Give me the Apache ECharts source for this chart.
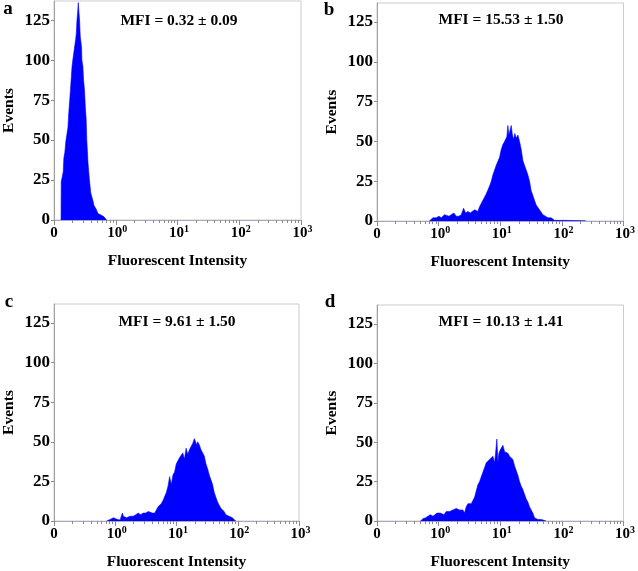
<!DOCTYPE html>
<html>
<head>
<meta charset="utf-8">
<script src="https://cdn.jsdelivr.net/npm/echarts@6/dist/echarts.min.js"></script>
<style>
html,body{margin:0;padding:0;background:#fff;}
#chart{width:638px;height:571px;}
</style>
</head>
<body>
<div id="chart"></div>
<script>
// ---- data (x = log10 fluorescent intensity; "0" label drawn at log10 = -1) ----
var panelLetters = ['a', 'b', 'c', 'd'];
var mfiTexts = ['MFI = 0.32 \u00b1 0.09', 'MFI = 15.53 \u00b1 1.50', 'MFI = 9.61 \u00b1 1.50', 'MFI = 10.13 \u00b1 1.41'];
var xTickValues = [-1, 0, 1, 2, 3];
var yTickValues = [0, 25, 50, 75, 100, 125];
var xAxisTitle = 'Fluorescent Intensity';
var yAxisTitle = 'Events';

var aLogFI = [-0.886, -0.883, -0.866, -0.851, -0.840, -0.825, -0.809, -0.788, -0.774, -0.761, -0.734, -0.708, -0.692, -0.680, -0.671, -0.649, -0.638, -0.628, -0.617, -0.607, -0.596, -0.586, -0.575, -0.554, -0.548, -0.532, -0.522, -0.506, -0.495, -0.490, -0.479, -0.469, -0.448, -0.426, -0.405, -0.384, -0.378, -0.362, -0.352, -0.336, -0.320, -0.309, -0.288, -0.256, -0.232, -0.214, -0.190, -0.177, -0.160, -0.150];
var aEvents = [0, 24, 27, 30, 39, 42, 49, 50, 58, 67, 81, 96, 101, 102, 107, 113, 117, 125, 130, 136, 130, 125, 115, 108, 100, 96, 88, 81, 80, 69, 63, 50, 35, 25, 17, 14, 14, 11, 9, 8, 7, 6, 4, 3, 3, 2, 2, 1, 1, 0];

var bLogFI = [-0.150, -0.146, -0.092, -0.038, 0.005, 0.043, 0.097, 0.124, 0.167, 0.205, 0.248, 0.286, 0.329, 0.367, 0.405, 0.438, 0.475, 0.513, 0.546, 0.583, 0.610, 0.637, 0.664, 0.691, 0.718, 0.745, 0.772, 0.800, 0.827, 0.854, 0.881, 0.908, 0.935, 0.962, 0.989, 1.016, 1.043, 1.070, 1.086, 1.107, 1.124, 1.140, 1.161, 1.178, 1.194, 1.215, 1.237, 1.259, 1.286, 1.313, 1.340, 1.367, 1.394, 1.421, 1.448, 1.475, 1.502, 1.529, 1.556, 1.583, 1.610, 1.637, 1.664, 1.691, 1.734, 1.772, 1.799, 1.826, 1.853, 1.880, 1.934, 2.000, 2.200, 2.380, 2.390];
var bEvents = [0, 1, 2, 2, 3, 2, 4, 5, 3, 4, 5, 3, 3, 4, 8, 5, 6, 5, 6, 7, 8, 6, 9, 11, 13, 15, 17, 18, 22, 25, 29, 30, 35, 36, 40, 45, 48, 50, 51, 53, 60, 54, 55, 60, 55, 51, 55, 52, 54, 50, 45, 38, 35, 35, 29, 25, 19, 16, 13, 10, 9, 7, 6, 4, 3, 2, 3, 2, 1, 0.4, 0.4, 0.4, 0.3, 0.3, 0];

var cLogFI = [-0.140, -0.137, -0.083, -0.029, -0.002, 0.035, 0.079, 0.100, 0.108, 0.116, 0.132, 0.186, 0.240, 0.294, 0.337, 0.375, 0.413, 0.456, 0.499, 0.537, 0.564, 0.607, 0.645, 0.672, 0.699, 0.726, 0.753, 0.780, 0.807, 0.834, 0.861, 0.888, 0.915, 0.942, 0.969, 0.996, 1.023, 1.049, 1.076, 1.103, 1.130, 1.157, 1.184, 1.211, 1.238, 1.265, 1.292, 1.308, 1.330, 1.346, 1.373, 1.400, 1.427, 1.454, 1.481, 1.508, 1.535, 1.562, 1.589, 1.616, 1.643, 1.670, 1.697, 1.724, 1.751, 1.778, 1.805, 1.832, 1.858, 1.885, 1.912, 1.939, 1.966];
var cEvents = [0, 0.6, 1, 2, 2, 1, 0.6, 0.6, 0.6, 5, 3, 2, 3, 3, 4, 5, 4, 5, 5, 6, 6, 5, 5, 7, 9, 10, 11, 13, 14, 18, 22, 28, 23, 29, 31, 36, 38, 40, 41, 43, 39, 46, 42, 45, 47, 49, 52, 51, 48, 50, 48, 45, 43, 41, 36, 33, 29, 26, 23, 18, 15, 12, 10, 8, 7, 6, 4, 3, 3, 2, 2, 1, 0];

var dLogFI = [-0.295, -0.292, -0.254, -0.211, -0.173, -0.135, -0.092, -0.065, -0.027, 0.005, 0.027, 0.054, 0.086, 0.124, 0.151, 0.178, 0.205, 0.232, 0.259, 0.286, 0.313, 0.340, 0.367, 0.394, 0.421, 0.448, 0.475, 0.502, 0.529, 0.556, 0.583, 0.610, 0.637, 0.665, 0.692, 0.719, 0.746, 0.773, 0.800, 0.827, 0.854, 0.881, 0.908, 0.924, 0.945, 0.962, 0.978, 0.999, 1.021, 1.043, 1.070, 1.097, 1.124, 1.151, 1.178, 1.205, 1.232, 1.259, 1.286, 1.313, 1.340, 1.367, 1.394, 1.421, 1.448, 1.475, 1.502, 1.529, 1.556, 1.583, 1.610, 1.637, 1.664, 1.691, 1.745];
var dEvents = [0, 0.6, 1.5, 2, 3, 4, 3, 4, 5, 6, 5, 4, 4, 6, 7, 6, 7, 7, 6, 8, 7, 7, 6, 7, 5, 9, 11, 11, 11, 13, 15, 19, 23, 25, 26, 31, 34, 37, 36, 39, 38, 41, 37, 43, 52, 37, 43, 45, 46, 48, 44, 45, 43, 41, 42, 39, 35, 34, 29, 25, 22, 20, 17, 14, 12, 9, 7, 5, 2, 2, 1, 2, 1, 0.6, 0];

var seriesLogFI = [aLogFI, bLogFI, cLogFI, dLogFI];
var seriesEvents = [aEvents, bEvents, cEvents, dEvents];

// minor log tick positions (log10 of 2..9 in each decade)
var minorTicks = [];
for (var dec = -1; dec < 3; dec++) {
  for (var m = 2; m <= 9; m++) minorTicks.push(dec + Math.log10(m));
}

// ---- layout ----
var FONT = "'Liberation Serif', 'Times New Roman', serif";
var grids = [
  {left: 50, top: 1, width: 251, height: 219},
  {left: 377, top: 3, width: 247, height: 218},
  {left: 52, top: 304, width: 247, height: 219},
  {left: 377, top: 305, width: 247, height: 218}
];
var mfiPos = [[179, 21], [501, 20], [177, 322], [501, 322]];
var letterPos = [[8, 9], [329, 10], [9, 302], [330, 302]];

var option = {
  animation: false,
  backgroundColor: '#fff',
  textStyle: {fontFamily: FONT, fontWeight: 'bold', color: '#000'},
  grid: grids.map(function (g) {
    return Object.assign({show: true, borderColor: '#cccccc', borderWidth: 1, containLabel: false}, g);
  }),
  xAxis: [],
  yAxis: [],
  series: [],
  graphic: []
};

for (var i = 0; i < 4; i++) {
  option.xAxis.push({
    gridIndex: i, type: 'value', min: -1, max: 3, interval: 1,
    axisLine: {show: true, onZero: false, lineStyle: {color: '#a9a9c4', width: 1}},
    axisTick: {show: true, length: 5, lineStyle: {color: '#8a8a8a'}},
    splitLine: {show: false},
    axisLabel: {
      margin: 4, color: '#000',
      formatter: function (v) {
        if (v === -1) return '{z|0}';
        return '{b|10}{s|' + v + '}';
      },
      rich: {
        z: {fontSize: 15, fontWeight: 'bold', fontFamily: FONT, color: '#000', lineHeight: 18},
        b: {fontSize: 15, fontWeight: 'bold', fontFamily: FONT, color: '#000', lineHeight: 18, padding: [0, 0, 0, 3]},
        s: {fontSize: 10, fontWeight: 'bold', fontFamily: FONT, color: '#000', lineHeight: 11, verticalAlign: 'top'}
      }
    },
    name: xAxisTitle, nameLocation: 'middle', nameGap: 33,
    nameTextStyle: {fontSize: 15.5, fontWeight: 'bold', fontFamily: FONT, color: '#000'}
  });
  option.yAxis.push({
    gridIndex: i, type: 'value', min: 0, max: 137,
    axisLine: {show: true, onZero: false, lineStyle: {color: '#a0a0a0', width: 1}},
    axisTick: {show: true, length: 3, customValues: yTickValues, lineStyle: {color: '#8a8a8a'}},
    splitLine: {show: false},
    axisLabel: {customValues: yTickValues, margin: 4, fontSize: 17, fontWeight: 'bold', fontFamily: FONT, color: '#000'},
    name: yAxisTitle, nameLocation: 'middle', nameGap: 37, nameRotate: 90,
    nameTextStyle: {fontSize: 15.5, fontWeight: 'bold', fontFamily: FONT, color: '#000'}
  });
}
for (var j = 0; j < 4; j++) {
  option.xAxis.push({
    gridIndex: j, type: 'value', min: -1, max: 3, position: 'bottom',
    axisLine: {show: false, onZero: false},
    axisTick: {show: true, length: 3, customValues: minorTicks, lineStyle: {color: '#8a8a8a'}},
    axisLabel: {show: false},
    splitLine: {show: false}
  });
}
for (var k = 0; k < 4; k++) {
  var xs = seriesLogFI[k], ys = seriesEvents[k];
  var pts = xs.map(function (x, idx) { return [x, ys[idx]]; });
  option.series.push({
    type: 'line', xAxisIndex: k, yAxisIndex: k, data: pts,
    symbol: 'none', showSymbol: false, silent: true, clip: true,
    lineStyle: {color: '#0000ff', width: 0.6},
    areaStyle: {color: '#0000ff', opacity: 1}
  });
  option.graphic.push({
    type: 'text', x: mfiPos[k][0], y: mfiPos[k][1], silent: true,
    style: {text: mfiTexts[k], fill: '#000', font: 'bold 15.5px ' + FONT, align: 'center', verticalAlign: 'middle'}
  });
  option.graphic.push({
    type: 'text', x: letterPos[k][0], y: letterPos[k][1], silent: true,
    style: {text: panelLetters[k], fill: '#000', font: 'bold 19px ' + FONT, align: 'center', verticalAlign: 'middle'}
  });
}

var chart = echarts.init(document.getElementById('chart'), null, {renderer: 'canvas'});
chart.setOption(option);
</script>
</body>
</html>
